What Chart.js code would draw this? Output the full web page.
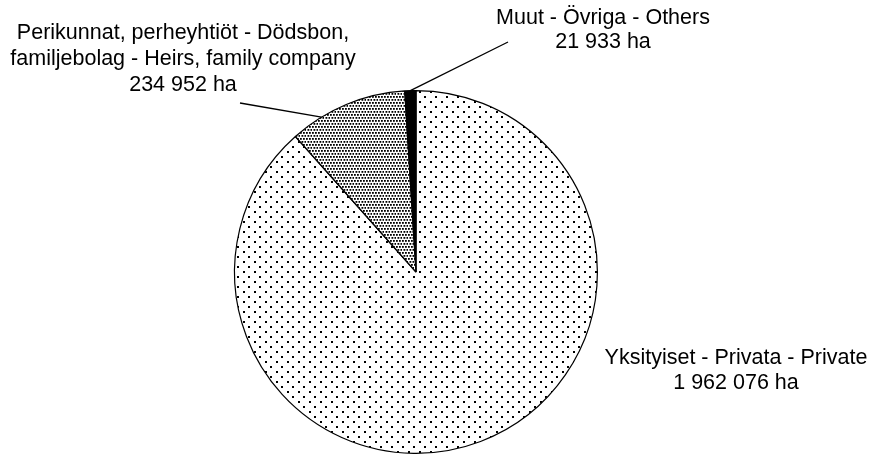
<!DOCTYPE html>
<html>
<head>
<meta charset="utf-8">
<script src="https://cdn.jsdelivr.net/npm/chart.js@4/dist/chart.umd.min.js"></script>
<style>
  html, body { margin: 0; padding: 0; background: #fff; }
  #wrap { width: 878px; height: 455px; }
</style>
</head>
<body>
<div id="wrap"><canvas id="pie" width="878" height="455"></canvas></div>
<script>
// data
const categories = [
  ["Yksityiset - Privata - Private"],
  ["Perikunnat, perheyhtiöt - Dödsbon,", "familjebolag - Heirs, family company"],
  ["Muut - Övriga - Others"]
];
const areaHa = [1962076, 234952, 21933];
const valueLabels = ["1 962 076 ha", "234 952 ha", "21 933 ha"];

// label layout: text centre x, first line y, line gap, where leader leaves the text, where it hits the arc
const labelPos = [
  { x: 736, y: 358, gap: 25, from: null, frac: 0 },
  { x: 183, y: 33, gap: 26, from: [240, 103], frac: 0.27 },
  { x: 603, y: 18, gap: 24, from: [508, 42], frac: 0.5 }
];

// dot fills like the printed original
const makePattern = (w, h, dots, size) => {
  const c = document.createElement("canvas");
  c.width = w; c.height = h;
  const g = c.getContext("2d");
  g.fillStyle = "#fff";
  g.fillRect(0, 0, w, h);
  g.fillStyle = "#000";
  dots.forEach(d => g.fillRect(d[0], d[1], size, size));
  return g.createPattern(c, "repeat");
};
const ctx = document.getElementById("pie").getContext("2d");
const sparse = makePattern(11, 10, [[1, 1], [6, 6]], 2);
const dense = makePattern(6, 6, [[0, 0], [3, 0], [1.5, 3], [4.5, 3]], 1.8);

const labelPlugin = {
  id: "pieLabels",
  afterDraw(chart) {
    const c = chart.ctx;
    const arcs = chart.getDatasetMeta(0).data;
    c.save();
    c.fillStyle = "#000";
    c.strokeStyle = "#000";
    c.lineWidth = 1.3;
    c.font = "21.5px 'Liberation Sans', Arial, sans-serif";
    c.textAlign = "center";
    c.textBaseline = "middle";
    categories.forEach((lines, i) => {
      const p = labelPos[i];
      const all = lines.concat([valueLabels[i]]);
      all.forEach((t, k) => c.fillText(t, p.x, p.y + k * p.gap));
      if (p.from) {
        const a = arcs[i];
        const ang = a.startAngle + p.frac * (a.endAngle - a.startAngle);
        c.beginPath();
        c.moveTo(p.from[0], p.from[1]);
        c.lineTo(a.x + a.outerRadius * Math.cos(ang), a.y + a.outerRadius * Math.sin(ang));
        c.stroke();
      }
    });
    c.restore();
  }
};

new Chart(ctx, {
  type: "pie",
  data: {
    labels: categories.map(l => l.join(" ")),
    datasets: [{
      data: areaHa,
      backgroundColor: [sparse, dense, "#000"],
      borderColor: "#000",
      borderWidth: 1.2
    }]
  },
  options: {
    responsive: false,
    animation: false,
    layout: { padding: { left: 232, right: 278, top: 90, bottom: 1 } },
    plugins: {
      legend: { display: false },
      tooltip: { enabled: false }
    }
  },
  plugins: [labelPlugin]
});
</script>
</body>
</html>
